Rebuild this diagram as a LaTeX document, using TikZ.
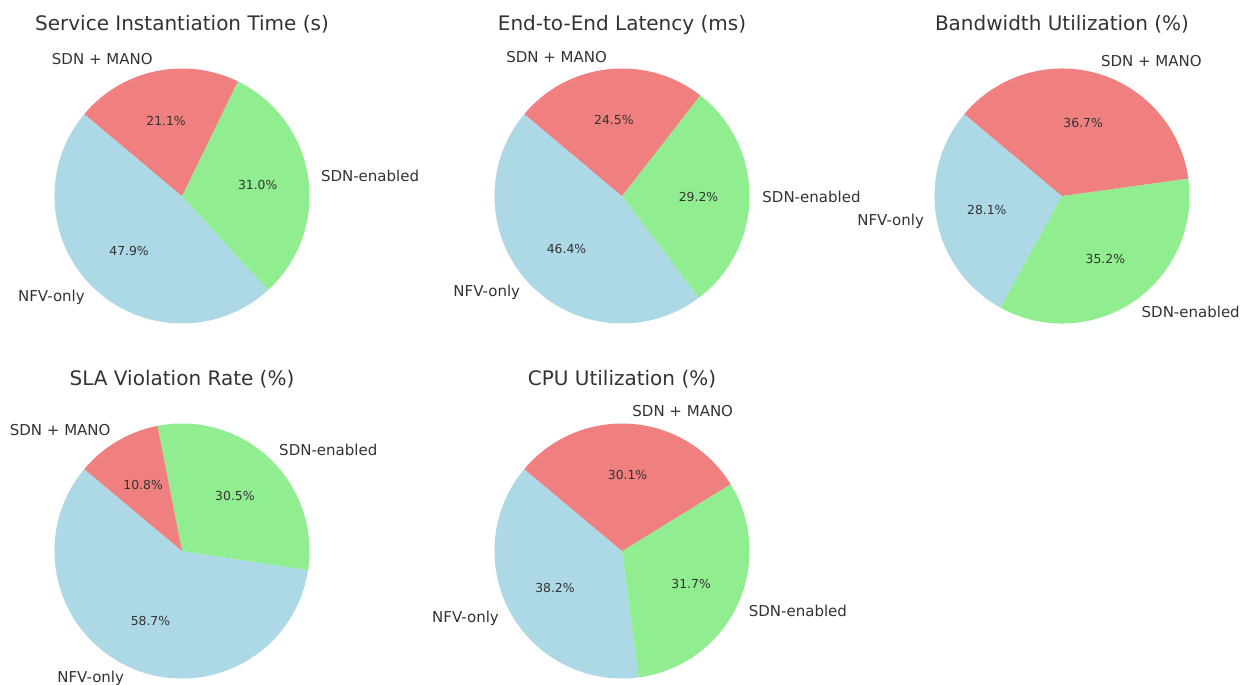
\documentclass[tikz,border=0pt]{standalone}
\usepackage{fontspec}
\setmainfont{DejaVu Sans}
\definecolor{nfvblue}{HTML}{ADD8E6}
\definecolor{sdngreen}{HTML}{90EE90}
\definecolor{manored}{HTML}{F08080}
\definecolor{inkgray}{HTML}{333333}

\begin{document}
\begin{tikzpicture}[x=1pt, y=1pt,
      ttl/.style={anchor=base, inner sep=0, text=inkgray,
                  font=\fontsize{20}{24}\selectfont},
      lbl/.style={inner sep=0, text=inkgray, font=\fontsize{15}{18}\selectfont},
      pct/.style={inner sep=0, text=inkgray, font=\fontsize{12.4}{15}\selectfont},
      nfv/.style={fill=nfvblue},
      sdn/.style={fill=sdngreen},
      mano/.style={fill=manored}
    ]
      \fill[white] (0,0) rectangle (1247,-685);
      \useasboundingbox (0,0) rectangle (1247,-685);

      % Service Instantiation Time
      \node[ttl] (t1) at (182,-30.7) {Service Instantiation Time (s)};
      \begin{scope}[shift={(182,-196)}]
        \fill[nfv] (0,0) -- (140:127.5) arc[start angle=140, end angle=312.44, radius=127.5pt] -- cycle;
        \fill[sdn] (0,0) -- (312.44:127.5) arc[start angle=312.44, end angle=424.04, radius=127.5pt] -- cycle;
        \fill[mano] (0,0) -- (424.04:127.5) arc[start angle=424.04, end angle=500, radius=127.5pt] -- cycle;
        \node[pct] (p1n) at (226.22:76.5) {47.9\%};
        \node[pct] (p1s) at (368.24:76.5) {31.0\%};
        \node[pct] (p1m) at (462.02:76.5) {21.1\%};
        \node[lbl, anchor=east] (l1n) at (226.22:140.25) {NFV-only};
        \node[lbl, anchor=west] (l1s) at (368.24:140.25) {SDN-enabled};
        \node[lbl, anchor=east] (l1m) at (462.02:140.25) {SDN + MANO};
      \end{scope}

      % End-to-End Latency
      \node[ttl] (t2) at (622,-30.7) {End-to-End Latency (ms)};
      \begin{scope}[shift={(622,-196)}]
        \fill[nfv] (0,0) -- (140:127.5) arc[start angle=140, end angle=307.04, radius=127.5pt] -- cycle;
        \fill[sdn] (0,0) -- (307.04:127.5) arc[start angle=307.04, end angle=412.16, radius=127.5pt] -- cycle;
        \fill[mano] (0,0) -- (412.16:127.5) arc[start angle=412.16, end angle=500, radius=127.5pt] -- cycle;
        \node[pct] (p2n) at (223.52:76.5) {46.4\%};
        \node[pct] (p2s) at (359.6:76.5) {29.2\%};
        \node[pct] (p2m) at (456.08:76.5) {24.5\%};
        \node[lbl, anchor=east] (l2n) at (223.52:140.25) {NFV-only};
        \node[lbl, anchor=west] (l2s) at (359.6:140.25) {SDN-enabled};
        \node[lbl, anchor=east] (l2m) at (456.08:140.25) {SDN + MANO};
      \end{scope}

      % Bandwidth Utilization
      \node[ttl] (t3) at (1062,-30.7) {Bandwidth Utilization (\%)};
      \begin{scope}[shift={(1062,-196)}]
        \fill[nfv] (0,0) -- (140:127.5) arc[start angle=140, end angle=241.16, radius=127.5pt] -- cycle;
        \fill[sdn] (0,0) -- (241.16:127.5) arc[start angle=241.16, end angle=367.88, radius=127.5pt] -- cycle;
        \fill[mano] (0,0) -- (367.88:127.5) arc[start angle=367.88, end angle=500, radius=127.5pt] -- cycle;
        \node[pct] (p3n) at (190.58:76.5) {28.1\%};
        \node[pct] (p3s) at (304.52:76.5) {35.2\%};
        \node[pct] (p3m) at (433.94:76.5) {36.7\%};
        \node[lbl, anchor=east] (l3n) at (190.58:140.25) {NFV-only};
        \node[lbl, anchor=west] (l3s) at (304.52:140.25) {SDN-enabled};
        \node[lbl, anchor=west] (l3m) at (433.94:140.25) {SDN + MANO};
      \end{scope}

      % SLA Violation Rate
      \node[ttl] (t4) at (182,-385.5) {SLA Violation Rate (\%)};
      \begin{scope}[shift={(182,-551)}]
        \fill[nfv] (0,0) -- (140:127.5) arc[start angle=140, end angle=351.32, radius=127.5pt] -- cycle;
        \fill[sdn] (0,0) -- (351.32:127.5) arc[start angle=351.32, end angle=461.12, radius=127.5pt] -- cycle;
        \fill[mano] (0,0) -- (461.12:127.5) arc[start angle=461.12, end angle=500, radius=127.5pt] -- cycle;
        \node[pct] (p4n) at (245.66:76.5) {58.7\%};
        \node[pct] (p4s) at (406.22:76.5) {30.5\%};
        \node[pct] (p4m) at (480.56:76.5) {10.8\%};
        \node[lbl, anchor=east] (l4n) at (245.66:140.25) {NFV-only};
        \node[lbl, anchor=west] (l4s) at (406.22:140.25) {SDN-enabled};
        \node[lbl, anchor=east] (l4m) at (480.56:140.25) {SDN + MANO};
      \end{scope}

      % CPU Utilization
      \node[ttl] (t5) at (622,-385.5) {CPU Utilization (\%)};
      \begin{scope}[shift={(622,-551)}]
        \fill[nfv] (0,0) -- (140:127.5) arc[start angle=140, end angle=277.52, radius=127.5pt] -- cycle;
        \fill[sdn] (0,0) -- (277.52:127.5) arc[start angle=277.52, end angle=391.64, radius=127.5pt] -- cycle;
        \fill[mano] (0,0) -- (391.64:127.5) arc[start angle=391.64, end angle=500, radius=127.5pt] -- cycle;
        \node[pct] (p5n) at (208.76:76.5) {38.2\%};
        \node[pct] (p5s) at (334.58:76.5) {31.7\%};
        \node[pct] (p5m) at (445.82:76.5) {30.1\%};
        \node[lbl, anchor=east] (l5n) at (208.76:140.25) {NFV-only};
        \node[lbl, anchor=west] (l5s) at (334.58:140.25) {SDN-enabled};
        \node[lbl, anchor=west] (l5m) at (445.82:140.25) {SDN + MANO};
      \end{scope}
    \end{tikzpicture}
\end{document}
